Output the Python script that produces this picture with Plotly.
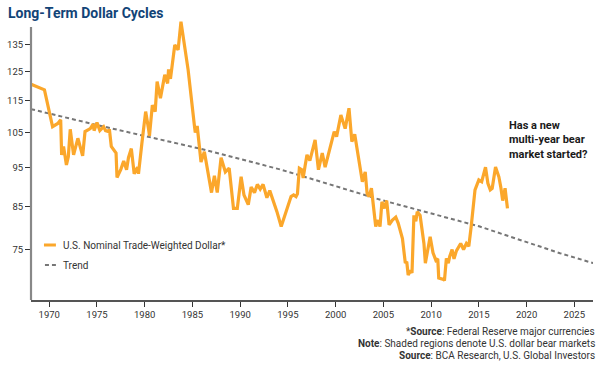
import plotly.graph_objects as go

# U.S. Nominal Trade-Weighted Dollar
years = [1968.1, 1968.8, 1969.5, 1970.35, 1970.9, 1971.2, 1971.3, 1971.5, 1971.8, 1972.0,
         1972.2, 1972.55, 1973.0, 1973.5, 1973.75, 1974.3, 1974.6, 1974.7, 1975.0, 1975.3,
         1975.7, 1975.9, 1976.2, 1976.3, 1976.5, 1977.0, 1977.1, 1977.5, 1977.8, 1978.1,
         1978.3, 1978.6, 1978.9, 1979.25, 1979.35, 1979.7, 1980.1, 1980.4, 1980.5, 1980.8,
         1981.1, 1981.3, 1981.65, 1982.1, 1982.4, 1982.5, 1982.7, 1983.15, 1983.5, 1983.8,
         1984.0, 1984.55, 1985.2, 1985.3, 1985.5, 1985.9,
         1986.25, 1986.55, 1987.0, 1987.3, 1987.6, 1988.0, 1988.45, 1988.85, 1989.3, 1989.7,
         1990.1, 1990.4, 1990.85, 1991.15, 1991.5, 1991.8, 1992.1, 1992.4, 1992.8, 1993.1,
         1993.45, 1993.85, 1994.3,
         1994.8, 1995.33, 1995.6, 1995.85, 1996.0, 1996.2, 1996.45, 1996.6, 1996.8, 1997.0,
         1997.3, 1997.85, 1998.2, 1998.6, 1998.9, 1999.85, 2000.1, 2000.55, 2001.0, 2001.4,
         2001.7, 2002.0, 2002.8, 2003.1, 2003.3, 2003.5, 2003.75, 2004.2, 2004.45, 2004.65,
         2004.85, 2005.1, 2005.35, 2005.6, 2005.95, 2006.3, 2006.55, 2007.0, 2007.3, 2007.45,
         2007.6, 2007.85, 2008.0, 2008.2, 2008.4, 2008.55, 2008.85, 2009.25, 2009.4, 2009.9,
         2010.2, 2010.5, 2010.7, 2010.8, 2011.3, 2011.4, 2011.6, 2011.8, 2011.95, 2012.2,
         2012.4, 2012.65, 2013.1, 2013.4, 2013.7, 2013.95, 2014.2, 2014.6, 2015.0, 2015.3,
         2015.7, 2015.95, 2016.2, 2016.4, 2016.75, 2017.1, 2017.3, 2017.5, 2017.75, 2018.0]
dollar = [120.6, 119.6, 118.7, 106.8, 107.8, 108.9, 98.5, 100.9, 95.7, 98.0,
          106.0, 98.5, 103.3, 98.2, 105.3, 106.2, 107.6, 105.6, 108.1, 105.6,
          106.8, 105.6, 105.3, 106.0, 100.9, 99.0, 92.3, 94.5, 96.8, 94.4,
          97.7, 100.3, 93.3, 95.1, 93.3, 101.7, 111.5, 106.2, 104.0, 113.6,
          111.5, 121.5, 115.9, 123.9, 120.9, 125.9, 122.5, 135.0, 133.1, 144.3,
          138.9, 125.7, 107.3, 105.0, 107.0, 96.5,
          99.4, 95.1, 88.4, 92.8, 88.4, 97.7, 93.8, 94.8, 84.5, 84.5,
          92.5, 87.8, 85.4, 89.8, 88.4, 90.5, 89.3, 90.5, 87.1, 88.9,
          86.6, 83.7, 80.2,
          83.5, 87.4, 87.8, 87.4, 88.1, 94.8, 94.4, 92.2, 95.4, 98.5,
          96.9, 102.8, 94.4, 99.0, 95.1, 105.3, 103.8, 110.4, 106.2, 112.6,
          102.3, 104.5, 91.2, 93.8, 88.1, 87.4, 89.5, 80.2, 81.7, 80.2,
          86.1, 84.5, 86.4, 80.6, 81.7, 82.4, 81.0, 77.5, 72.2, 72.5,
          69.8, 70.7, 70.2, 82.8, 81.4, 83.7, 82.8, 76.4, 72.2, 77.9,
          74.4, 72.8, 73.1, 69.2, 68.9, 68.7, 73.2, 72.2, 73.6, 75.1,
          73.1, 74.8, 76.4, 75.1, 76.4, 75.8, 80.2, 89.1, 91.7, 91.2,
          95.1, 90.8, 89.1, 89.5, 95.1, 92.5, 89.8, 86.4, 89.5, 84.5]

trend_years = [1968.1, 1975.0, 1985.9, 1994.3, 2004.7, 2015.1, 2023.5, 2027.0]
trend_values = [112.3, 107.3, 100.2, 94.4, 86.6, 80.2, 74.3, 72.2]

y_ticks = [75, 85, 95, 105, 115, 125, 135]
x_ticks = [1970, 1975, 1980, 1985, 1990, 1995, 2000, 2005, 2010, 2015, 2020, 2025]

title_text = "Long-Term Dollar Cycles"
legend_labels = ["U.S. Nominal Trade-Weighted Dollar*", "Trend"]
callout = "Has a new<br>multi-year bear<br>market started?"
footnotes = ["*<b>Source</b>: Federal Reserve major currencies",
             "<b>Note</b>: Shaded regions denote U.S. dollar bear markets",
             "<b>Source</b>: BCA Research, U.S. Global Investors"]

ORANGE = "#FBA72B"
GRAY = "#767676"
FONT = "Roboto"

fig = go.Figure()
fig.add_trace(go.Scatter(x=trend_years, y=trend_values, mode="lines",
                         line=dict(color=GRAY, width=2, dash="4px,3px"),
                         name=legend_labels[1], showlegend=False, hoverinfo="skip"))
fig.add_trace(go.Scatter(x=years, y=dollar, mode="lines",
                         line=dict(color=ORANGE, width=3.2, shape="linear"),
                         name=legend_labels[0], showlegend=False))

W, H = 600, 365
L, R, T, B = 29, 7, 20, 65
pw, ph = W - L - R, H - T - B

def px(xp):
    return (xp - L) / pw

def py(yp):
    return (H - B - yp) / ph

fig.update_layout(
    width=W, height=H,
    margin=dict(l=L, r=R, t=T, b=B),
    paper_bgcolor="white", plot_bgcolor="white",
    font=dict(family=FONT, size=10, color="#333333"),
    showlegend=False,
    xaxis=dict(range=[1968.09, 2026.96], tickmode="array", tickvals=x_ticks,
               ticks="outside", ticklen=5, tickwidth=1, tickcolor="#333333",
               showline=True, linecolor="#555555", linewidth=1.5,
               showgrid=False, zeroline=False,
               tickfont=dict(family=FONT, size=9.5, color="#333333")),
    yaxis=dict(type="log", range=[1.8127, 2.1614], tickmode="array", tickvals=y_ticks,
               ticktext=[str(v) for v in y_ticks],
               ticks="outside", ticklen=5, tickwidth=1, tickcolor="#333333",
               showline=False, showgrid=False, zeroline=False,
               tickfont=dict(family=FONT, size=9.5, color="#333333")),
)

shapes = [
    dict(type="line", xref="paper", yref="paper", x0=0, x1=0, y0=0, y1=py(27),
         line=dict(color="#888888", width=2.2)),
    dict(type="line", xref="paper", yref="paper", x0=px(42), x1=px(54), y0=py(245), y1=py(245),
         line=dict(color=ORANGE, width=3)),
    dict(type="line", xref="paper", yref="paper", x0=px(43), x1=px(54), y0=py(265), y1=py(265),
         line=dict(color=GRAY, width=2, dash="4px,3px")),
]
fig.update_layout(shapes=shapes)

ann = []
ann.append(dict(text="<b>" + title_text + "</b>", xref="paper", yref="paper",
                x=px(4), y=py(12.5), xanchor="left", yanchor="middle", showarrow=False,
                font=dict(family=FONT, size=14, color="#124477")))
ann.append(dict(text=legend_labels[0], xref="paper", yref="paper", x=px(59), y=py(245),
                xanchor="left", yanchor="middle", showarrow=False,
                font=dict(family=FONT, size=10, color="#333333")))
ann.append(dict(text=legend_labels[1], xref="paper", yref="paper", x=px(59), y=py(265),
                xanchor="left", yanchor="middle", showarrow=False,
                font=dict(family=FONT, size=10, color="#333333")))
ann.append(dict(text="<b>" + callout + "</b>", xref="paper", yref="paper", x=px(507), y=py(139.5),
                xanchor="left", yanchor="middle", align="left", showarrow=False,
                font=dict(family=FONT, size=11, color="#1a1a1a")))
for t, yy in zip(footnotes, [331, 343, 355]):
    ann.append(dict(text=t, xref="paper", yref="paper", x=px(597), y=py(yy),
                    xanchor="right", yanchor="middle", align="right", showarrow=False,
                    font=dict(family=FONT, size=10, color="#333333")))
fig.update_layout(annotations=ann)

fig.write_html("out.html", config={"displayModeBar": False},
               post_script="document.body.style.margin='0';document.body.style.overflow='hidden';")
